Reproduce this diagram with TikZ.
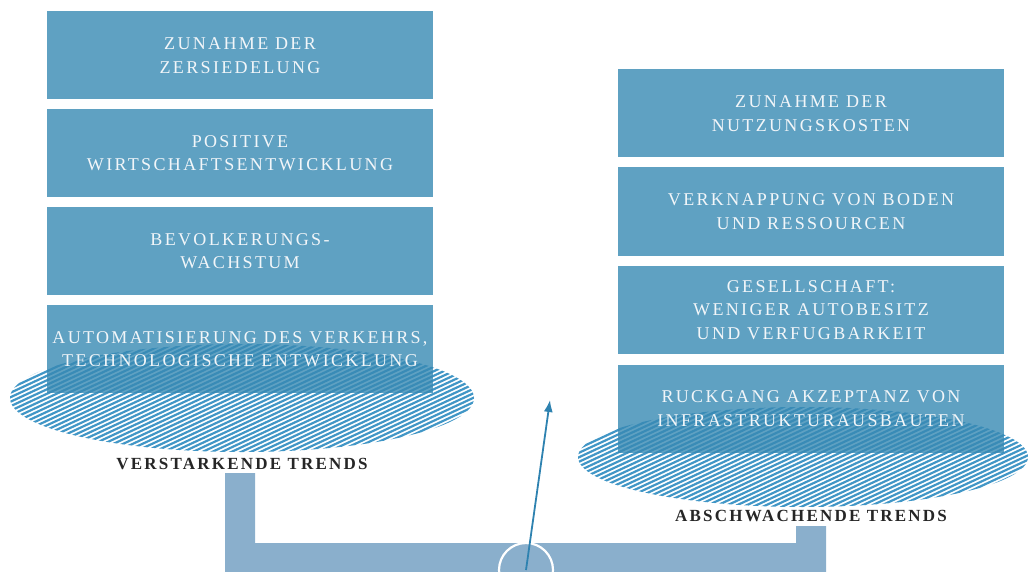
\documentclass[tikz,border=0pt]{standalone}
\usepackage{fontspec}
\setmainfont{Liberation Serif}
\newfontfamily\boxfont[LetterSpace=13]{Liberation Serif}
\newfontfamily\trendfont[LetterSpace=13]{Liberation Serif}
\usetikzlibrary{arrows.meta}
\definecolor{boxblue}{HTML}{3789B3}
\definecolor{hatchblue}{HTML}{4196C6}
\definecolor{barblue}{HTML}{8AAFCC}
\definecolor{pointer}{HTML}{2E82B0}
\definecolor{boxtext}{HTML}{F2F6F9}
\tikzset{
  trendbox/.style={fill=boxblue, fill opacity=0.8, text opacity=1, text=boxtext,
    minimum width=386pt, minimum height=88pt, inner sep=0pt, align=center,
    font=\boxfont\fontsize{18}{23.5}\selectfont},
  trendlabel/.style={text=black!85, inner sep=0pt,
    font=\trendfont\bfseries\fontsize{17}{20}\selectfont},
  hatchline/.style={hatchblue, line width=2.2pt},
}
% hatched ellipse: centre x, centre y, x radius, y radius
\newcommand\hatchellipse[4]{%
  \begin{scope}
    \clip (#1,#2) ellipse [x radius=#3, y radius=#4];
    \foreach \b in {-100,-95.5,...,400}
      \draw[hatchline] (#1-260,#2+\b) -- ++(520,-242);
  \end{scope}}
\begin{document}
\begin{tikzpicture}[x=1pt,y=-1pt]
  \useasboundingbox (0,0) rectangle (1030,572);

  % hatched bases under the two stacks
  \hatchellipse{242}{398}{232}{54}
  \hatchellipse{803}{457}{225}{50}

  % reinforcing trends (left stack)
  \node[trendbox] (l1) at (240,55.5) {ZUNAHME DER\\ZERSIEDELUNG};
  \node[trendbox] (l2) at (240,153) {POSITIVE\\WIRTSCHAFTSENTWICKLUNG};
  \node[trendbox] (l3) at (240,251) {BEVOLKERUNGS-\\WACHSTUM};
  \node[trendbox] (l4) at (240,349) {AUTOMATISIERUNG DES VERKEHRS,\\TECHNOLOGISCHE ENTWICKLUNG};

  % weakening trends (right stack)
  \node[trendbox] (r1) at (811,113.5) {ZUNAHME DER\\NUTZUNGSKOSTEN};
  \node[trendbox] (r2) at (811,211.5) {VERKNAPPUNG VON BODEN\\UND RESSOURCEN};
  \node[trendbox] (r3) at (811,310) {GESELLSCHAFT:\\WENIGER AUTOBESITZ\\UND VERFUGBARKEIT};
  \node[trendbox] (r4) at (811,408.5) {RUCKGANG AKZEPTANZ VON\\INFRASTRUKTURAUSBAUTEN};

  % captions
  \node[trendlabel] (lcap) at (242,464) {VERSTARKENDE TRENDS};
  \node[trendlabel] (rcap) at (811,516) {ABSCHWACHENDE TRENDS};

  % balance beam
  \coordinate (lpost) at (225,473);
  \coordinate (rpost) at (826,526);
  \fill[barblue] (lpost) -- ++(30,0) |- (796,543) |- (rpost) |- (225,572) -- cycle;

  % pivot and pointer
  \node[draw=white, line width=2.2pt, circle, minimum size=54pt, inner sep=0pt] (pivot) at (526,570) {};
  \coordinate (tip) at (550,400);
  \draw[pointer, line width=1.8pt, -{Latex[length=12pt,width=9pt]}] (pivot.center) -- (tip);
\end{tikzpicture}
\end{document}
